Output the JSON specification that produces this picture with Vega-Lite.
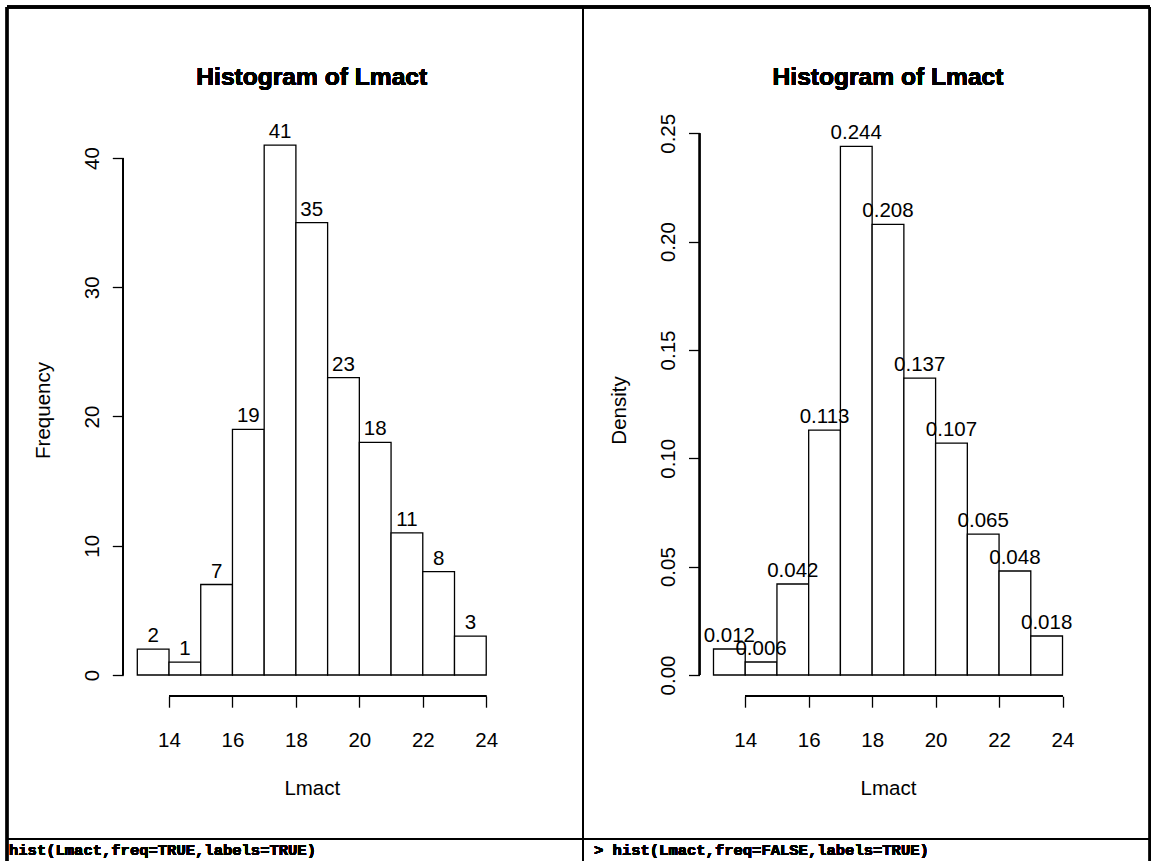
{
  "$schema": "https://vega.github.io/schema/vega-lite/v6.json",
  "width": 1143,
  "height": 854,
  "autosize": {"type": "none"},
  "padding": {"left": 7, "top": 7, "right": 1, "bottom": 0},
  "background": "white",
  "config": {
    "view": {"stroke": null},
    "font": "Liberation Sans",
    "axis": {
      "labelFont": "Liberation Sans",
      "titleFont": "Liberation Sans",
      "labelColor": "black",
      "titleColor": "black",
      "tickColor": "black",
      "tickWidth": 1.3,
      "tickSize": 11,
      "domain": false,
      "grid": false,
      "labelFontSize": 20.5,
      "titleFontSize": 20.5,
      "titleFontWeight": "normal",
      "labelFlush": false,
      "labelOverlap": false,
      "labelBound": false
    },
    "text": {"font": "Liberation Sans", "fontSize": 20.5, "color": "black"},
    "rule": {"color": "black"}
  },
  "data": {
    "values": [
      {"lo": 13, "hi": 14, "mid": 13.5, "count": 2, "density": 0.012},
      {"lo": 14, "hi": 15, "mid": 14.5, "count": 1, "density": 0.006},
      {"lo": 15, "hi": 16, "mid": 15.5, "count": 7, "density": 0.042},
      {"lo": 16, "hi": 17, "mid": 16.5, "count": 19, "density": 0.113},
      {"lo": 17, "hi": 18, "mid": 17.5, "count": 41, "density": 0.244},
      {"lo": 18, "hi": 19, "mid": 18.5, "count": 35, "density": 0.208},
      {"lo": 19, "hi": 20, "mid": 19.5, "count": 23, "density": 0.137},
      {"lo": 20, "hi": 21, "mid": 20.5, "count": 18, "density": 0.107},
      {"lo": 21, "hi": 22, "mid": 21.5, "count": 11, "density": 0.065},
      {"lo": 22, "hi": 23, "mid": 22.5, "count": 8, "density": 0.048},
      {"lo": 23, "hi": 24, "mid": 23.5, "count": 3, "density": 0.018}
    ]
  },
  "layer": [
    {
      "layer": [
        {
          "mark": {"type": "rect", "fill": "white", "stroke": "black", "strokeWidth": 1.3},
          "encoding": {
            "x": {
              "field": "lo", "type": "quantitative",
              "scale": {"domain": [8.8922, 44.926], "nice": false, "zero": false},
              "axis": {
                "orient": "bottom", "offset": -164.8,
                "values": [14, 16, 18, 20, 22, 24],
                "labelBaseline": "alphabetic", "labelPadding": 38.8,
                "title": "Lmact", "titleX": 304.8, "titleY": 98.4,
                "titleAlign": "center", "titleBaseline": "alphabetic", "titleAnchor": null
              }
            },
            "x2": {"field": "hi"},
            "y": {
              "field": "count", "type": "quantitative",
              "scale": {"domain": [-14.391, 51.683], "nice": false, "zero": false},
              "axis": {
                "orient": "left", "offset": -116.3,
                "values": [0, 10, 20, 30, 40],
                "labelAngle": -90, "labelAlign": "center", "labelBaseline": "alphabetic",
                "labelPadding": 13.6,
                "title": "Frequency", "titleAngle": -90, "titleX": -73.8, "titleY": 403,
                "titleAlign": "center", "titleBaseline": "alphabetic", "titleAnchor": null
              }
            },
            "y2": {"datum": 0}
          }
        },
        {
          "mark": {"type": "text", "baseline": "alphabetic", "align": "center", "dy": -7},
          "encoding": {
            "x": {"field": "mid", "type": "quantitative", "title": "Lmact"},
            "y": {"field": "count", "type": "quantitative", "title": "Frequency"},
            "text": {"field": "count", "type": "quantitative", "format": "d"}
          }
        },
        {
          "mark": {"type": "text", "baseline": "alphabetic", "align": "center", "fontWeight": "bold", "fontSize": 24.6},
          "encoding": {
            "x": {"datum": 18.5},
            "y": {"datum": 45.648},
            "text": {"value": "Histogram of Lmact"}
          }
        },
        {
          "mark": {"type": "rule", "strokeWidth": 1.3},
          "encoding": {"x": {"datum": 14}, "x2": {"datum": 24}, "y": {"datum": -1.64}}
        },
        {
          "mark": {"type": "rule", "strokeWidth": 1.3},
          "encoding": {"y": {"datum": 0}, "y2": {"datum": 40}, "x": {"datum": 12.56}}
        },
        {
          "mark": {"type": "rule", "strokeWidth": 2.3},
          "encoding": {"y": {"datum": 51.683}}
        },
        {
          "mark": {"type": "rule", "strokeWidth": 2.3},
          "encoding": {"x": {"datum": 8.8922}}
        },
        {
          "mark": {"type": "rule", "strokeWidth": 2.3},
          "encoding": {"x": {"datum": 44.926}}
        },
        {
          "mark": {"type": "rule", "strokeWidth": 2},
          "encoding": {"x": {"datum": 27.051}}
        },
        {
          "mark": {"type": "rule", "strokeWidth": 2},
          "encoding": {"y": {"datum": -12.688}}
        },
        {
          "mark": {"type": "text", "baseline": "alphabetic", "align": "left", "font": "Liberation Mono", "fontWeight": "bold", "fontSize": 15.5},
          "encoding": {
            "x": {"datum": 8.955},
            "y": {"datum": -13.926},
            "text": {"value": "hist(Lmact,freq=TRUE,labels=TRUE)"}
          }
        },
        {
          "mark": {"type": "text", "baseline": "alphabetic", "align": "left", "font": "Liberation Mono", "fontWeight": "bold", "fontSize": 15.5},
          "encoding": {
            "x": {"datum": 27.397},
            "y": {"datum": -13.926},
            "text": {"value": "> hist(Lmact,freq=FALSE,labels=TRUE)"}
          }
        }
      ]
    },
    {
      "layer": [
        {
          "mark": {"type": "rect", "fill": "white", "stroke": "black", "strokeWidth": 1.3},
          "encoding": {
            "x": {
              "field": "lo", "type": "quantitative",
              "scale": {"domain": [-9.266, 26.757], "nice": false, "zero": false},
              "axis": {
                "orient": "bottom", "offset": -164.8,
                "values": [14, 16, 18, 20, 22, 24],
                "labelBaseline": "alphabetic", "labelPadding": 38.8,
                "title": "Lmact", "titleX": 881.0, "titleY": 98.4,
                "titleAlign": "center", "titleBaseline": "alphabetic", "titleAnchor": null
              }
            },
            "x2": {"field": "hi"},
            "y": {
              "field": "density", "type": "quantitative",
              "scale": {"domain": [-0.08584, 0.30829], "nice": false, "zero": false},
              "axis": {
                "orient": "left", "offset": -692.5,
                "values": [0, 0.05, 0.1, 0.15, 0.2, 0.25], "format": ".2f",
                "labelAngle": -90, "labelAlign": "center", "labelBaseline": "alphabetic",
                "labelPadding": 13.6,
                "title": "Density", "titleAngle": -90, "titleX": -73.8, "titleY": 403,
                "titleAlign": "center", "titleBaseline": "alphabetic", "titleAnchor": null
              }
            },
            "y2": {"datum": 0}
          }
        },
        {
          "mark": {"type": "text", "baseline": "alphabetic", "align": "center", "dy": -7},
          "encoding": {
            "x": {"field": "mid", "type": "quantitative", "title": "Lmact"},
            "y": {"field": "density", "type": "quantitative", "title": "Density"},
            "text": {"field": "density", "type": "quantitative", "format": ".3f"}
          }
        },
        {
          "mark": {"type": "text", "baseline": "alphabetic", "align": "center", "fontWeight": "bold", "fontSize": 24.6},
          "encoding": {
            "x": {"datum": 18.5},
            "y": {"datum": 0.27229},
            "text": {"value": "Histogram of Lmact"}
          }
        },
        {
          "mark": {"type": "rule", "strokeWidth": 1.3},
          "encoding": {"x": {"datum": 14}, "x2": {"datum": 24}, "y": {"datum": -0.00976}}
        },
        {
          "mark": {"type": "rule", "strokeWidth": 1.3},
          "encoding": {"y": {"datum": 0}, "y2": {"datum": 0.25}, "x": {"datum": 12.56}}
        }
      ]
    }
  ],
  "resolve": {
    "scale": {"x": "independent", "y": "independent"},
    "axis": {"x": "independent", "y": "independent"}
  }
}
